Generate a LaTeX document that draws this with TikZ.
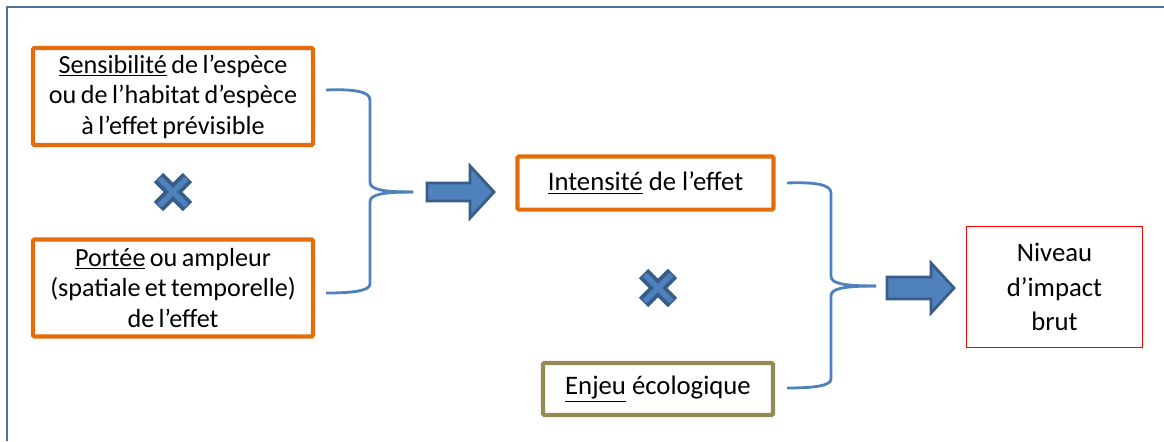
\documentclass[tikz,border=0pt]{standalone}
\usepackage{fontspec}
\setmainfont{Carlito}
\usepackage{xcolor}
\usetikzlibrary{positioning,calc}

\definecolor{effetorange}{RGB}{228,108,10}
\definecolor{enjeuolive}{RGB}{148,138,84}
\definecolor{bracebleu}{RGB}{79,129,189}
\definecolor{fleche}{RGB}{79,129,189}
\definecolor{flechebord}{RGB}{56,93,138}
\definecolor{cadre}{RGB}{79,110,155}

\newcommand{\textserre}{\fontsize{18.6}{21.7}\selectfont
  \spaceskip=0.17em plus 0.05em minus 0.05em\relax}

\begin{document}
\begin{tikzpicture}[
  x=0.025cm, y=-0.025cm,
  every node/.style={font=\fontsize{19}{21.7}\selectfont, align=center},
  serre/.style={font=\textserre},
  effetbox/.style={draw=effetorange, line width=3pt, rounded corners=1pt,
    minimum width=7.0cm, minimum height=2.42cm, inner sep=0pt},
  enjeubox/.style={draw=enjeuolive, line width=3pt, rounded corners=1pt,
    minimum width=5.75cm, minimum height=1.3cm, inner sep=0pt},
  impactbox/.style={draw=red, line width=1pt,
    minimum width=4.4cm, minimum height=3.02cm, inner sep=0pt,
    font=\fontsize{19}{24.5}\selectfont},
  accolade/.style={draw=bracebleu, line width=2pt},
  blocfleche/.style={fill=fleche, draw=flechebord, line width=2pt},
  croix/.pic={
    \draw[flechebord, line width=9.5pt] (-14.5,-14.5) -- (14.5,14.5) (-14.5,14.5) -- (14.5,-14.5);
    \draw[fleche, line width=4pt] (-13.5,-13.5) -- (13.5,13.5) (-13.5,13.5) -- (13.5,-13.5);
  }
]
  \useasboundingbox (0,0) rectangle (1164,441);

  % Cadre
  \draw[cadre, line width=1.4pt] (7,441) -- (7,7) -- (1164,7);

  % Facteurs de l'intensite
  \node[effetbox, serre] (sens) at (173,96.5)
    {\underline{Sensibilité} de l’espèce\\ou de l’habitat d’espèce\\à l’effet prévisible};
  \node[effetbox, serre] (portee) at (173,288)
    {\underline{Portée} ou ampleur\\(spatiale et temporelle)\\de l’effet};
  \pic at (173,192) {croix};

  % Accolade 1
  \coordinate (tipA) at (413,192);
  \draw[accolade] (326,90) .. controls (352,89) and (370,91) .. (370,100)
    -- (370,182) .. controls (370,189) and (380,192) .. (tipA);
  \draw[accolade] (tipA) .. controls (380,192) and (370,195) .. (370,202)
    -- (370,284) .. controls (370,291) and (352,293) .. (326,293);

  % Fleche 1
  \draw[blocfleche] (427,183) -- (470,183) -- (470,166) -- (494,192)
    -- (470,218) -- (470,201) -- (427,201) -- cycle;

  % Intensite et enjeu
  \node[effetbox, minimum width=6.4cm, minimum height=1.33cm] (intens) at (645.5,183)
    {\underline{Intensité} de l’effet};
  \pic at (658,288) {croix};
  \node[enjeubox] (enjeu) at (658,389)
    {\underline{Enjeu} écologique};

  % Accolade 2
  \coordinate (tipB) at (876,286);
  \draw[accolade] (787,183) .. controls (813,182) and (831,184) .. (831,193)
    -- (831,276) .. controls (831,283) and (841,286) .. (tipB);
  \draw[accolade] (tipB) .. controls (841,286) and (831,289) .. (831,296)
    -- (831,379) .. controls (831,386) and (813,388) .. (787,388);

  % Fleche 2
  \draw[blocfleche] (887,277) -- (931,277) -- (931,263) -- (954,288)
    -- (931,313) -- (931,299) -- (887,299) -- cycle;

  % Niveau d'impact
  \node[impactbox] (impact) at (1054.5,287)
    {Niveau\\d’impact\\brut};
\end{tikzpicture}
\end{document}
